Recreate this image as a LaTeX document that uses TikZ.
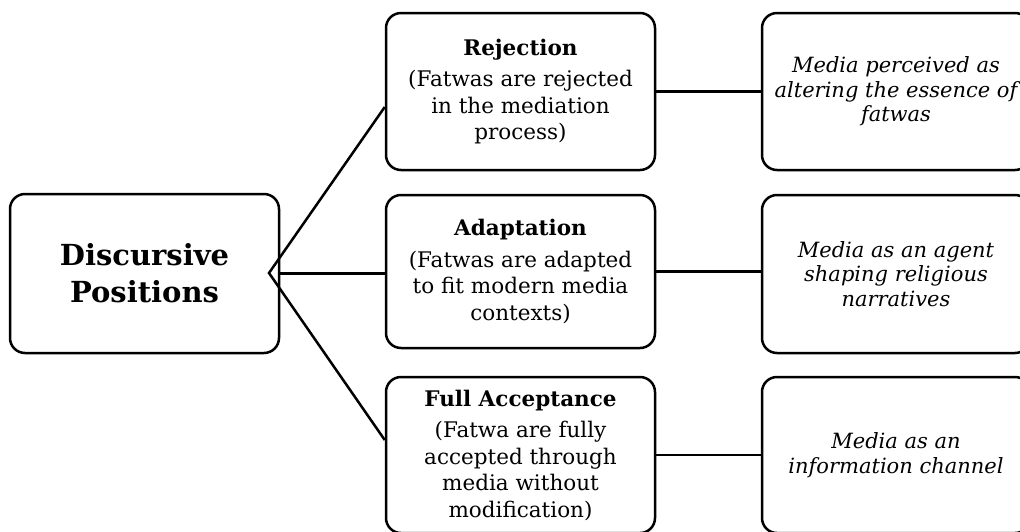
\documentclass[tikz,border=0pt]{standalone}
\usepackage{fontspec}
\setmainfont{DejaVu Serif}
\begin{document}
\begin{tikzpicture}[x=1pt,y=-1pt,
  box/.style={draw=black, line width=2.5pt, rounded corners=15pt, fill=white,
    align=center, inner sep=0pt, minimum width=#1},
  box/.default=269pt,
  conn/.style={draw=black, line width=2.5pt},
  bodytext/.style={font=\fontsize{21.5}{26.5}\selectfont},
  ittext/.style={font=\fontsize{21}{24.5}\selectfont\itshape}
]
\useasboundingbox (0,0) rectangle (1020,531);
\clip (0,0) rectangle (1020,531);
% left
\node[box, minimum height=159pt, font=\fontsize{29}{37}\selectfont\bfseries] (dp) at (144.5,273.5) {Discursive\\Positions};
% middle
\node[box, minimum height=157pt, bodytext] (rej) at (520.5,91.5)
  {\textbf{Rejection}\\[5pt](Fatwas are rejected\\in the mediation\\process)};
\node[box, minimum height=153pt, bodytext] (adp) at (520.5,271.5)
  {\textbf{Adaptation}\\[5pt](Fatwas are adapted\\to fit modern media\\contexts)};
\node[box, minimum height=156pt, bodytext] (acc) at (520.5,455)
  {\textbf{Full Acceptance}\\[5pt](Fatwa are fully\\accepted through\\media without\\modification)};
% right
\node[box=268pt, minimum height=157pt, ittext] (r1) at (896,91.5)
  {Media perceived as\\altering the essence of\\fatwas};
\node[box=268pt, minimum height=158pt, ittext] (r2) at (896,274)
  {Media as an agent\\shaping religious\\narratives};
\node[box=268pt, minimum height=156pt, ittext] (r3) at (896,455)
  {Media as an\\information channel};
% connectors
\coordinate (j) at (269,273);
\coordinate (rejin) at ([yshift=-15.5pt]rej.west);
\coordinate (accin) at ([yshift=15pt]acc.west);
\draw[conn, line join=miter] (rejin) -- (j) -- (accin);
\draw[conn] (dp.east) -- (dp.east -| adp.west);
\draw[conn] (rej.east) -- (r1.west);
\draw[conn] (adp.east) -- (adp.east -| r2.west);
\draw[conn] (acc.east) -- (r3.west);
\end{tikzpicture}
\end{document}
